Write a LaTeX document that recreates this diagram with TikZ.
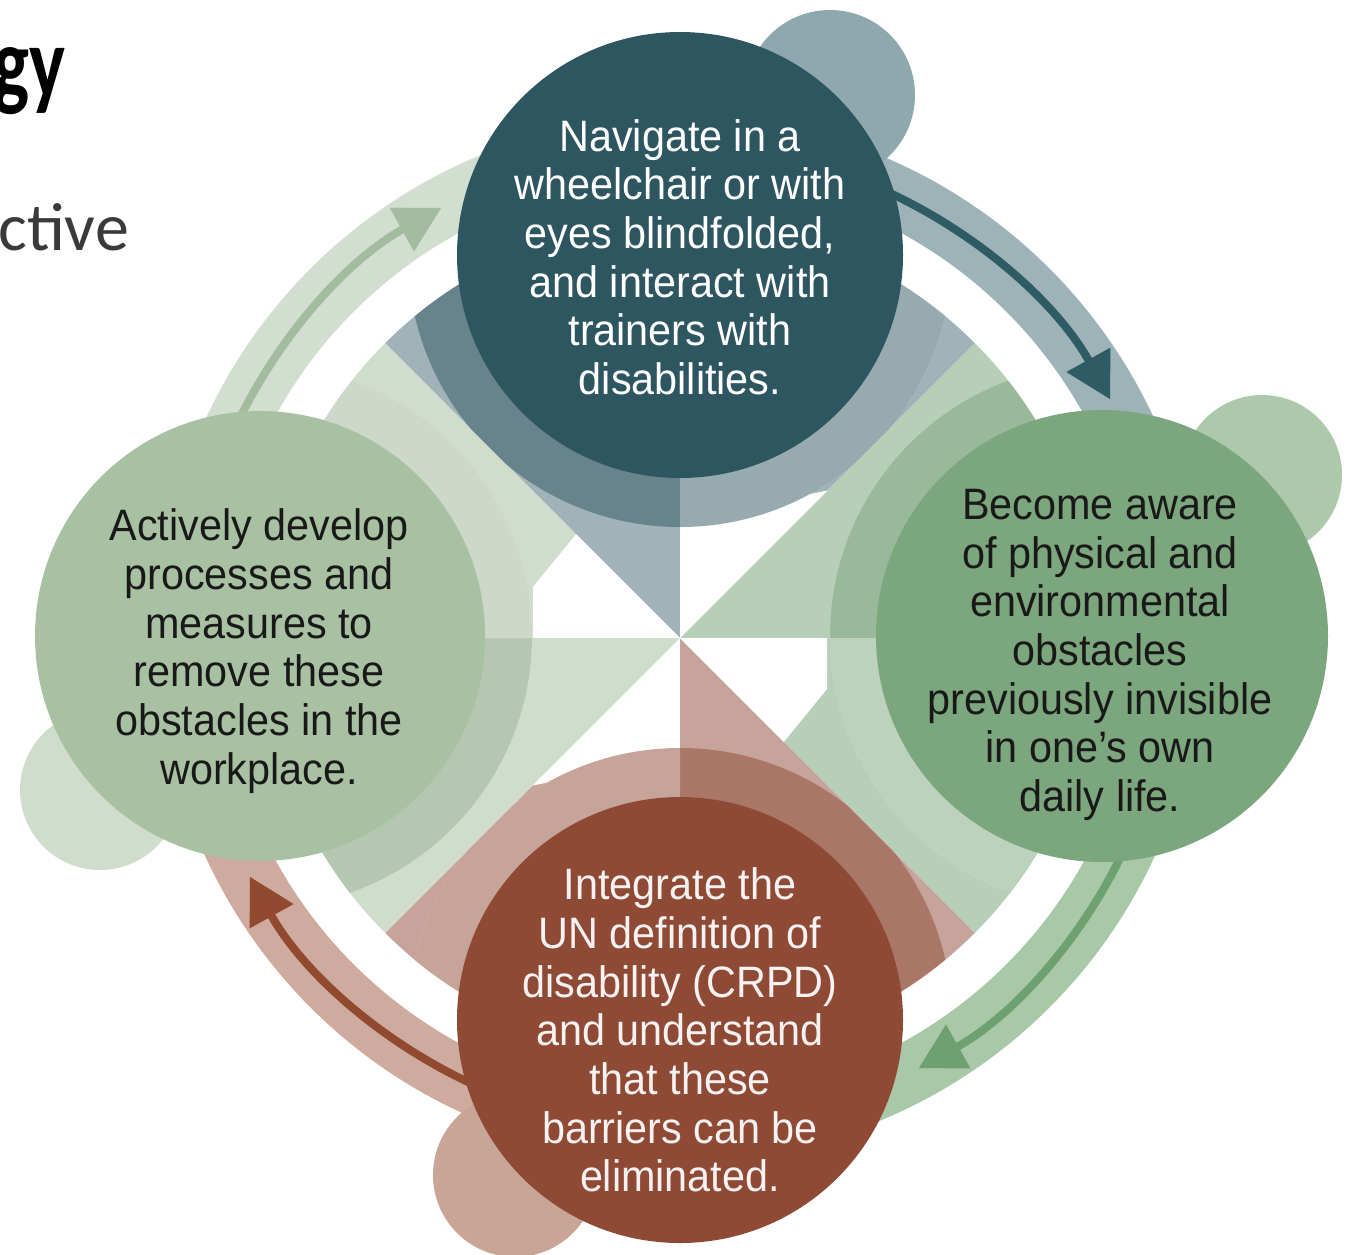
\documentclass[tikz,border=0pt]{standalone}
\usepackage{fontspec}
\setmainfont{Liberation Sans}[FakeStretch=0.94]
\newfontfamily\slidefont{Carlito}
\newfontfamily\slideheadfont{Carlito}[FakeStretch=0.75]
\usetikzlibrary{arrows.meta}

% circle colours
\definecolor{tealc}{HTML}{2E5661}
\definecolor{greenc}{HTML}{7CA67D}
\definecolor{rustc}{HTML}{8F4A36}
\definecolor{sagec}{HTML}{A9C1A3}
% bands, arrows, bumps
\definecolor{tealband}{HTML}{9DB3B8}
\definecolor{greenband}{HTML}{A9C8A7}
\definecolor{rustband}{HTML}{CFAB9F}
\definecolor{sageband}{HTML}{D2DECF}
\definecolor{tealarrow}{HTML}{2F5B65}
\definecolor{greenarrow}{HTML}{6FA072}
\definecolor{rustarrow}{HTML}{91492F}
\definecolor{sagearrow}{HTML}{A3BC9F}
\definecolor{tealbump}{HTML}{8EA8AD}
\definecolor{greenbump}{HTML}{ADC8AB}
\definecolor{rustbump}{HTML}{C9A597}
\definecolor{sagebump}{HTML}{D0DCCC}
\definecolor{subgrey}{HTML}{3A3A3A}

\tikzset{
  stage/.style={circle, minimum size=#1, inner sep=0pt},
  stagetext/.style={align=center, inner sep=0pt, font=\fontsize{33}{36.5}\selectfont},
  band/.style={line width=45.75pt},
  flow/.style={line width=6pt, -{Triangle[width=36pt,length=34pt]}},
}

\begin{document}
\begin{tikzpicture}[x=0.75pt,y=0.75pt,yscale=-1]
        \useasboundingbox (0,0) rectangle (1348,1254);
        \coordinate (O) at (680,638);

        % quarter sectors behind each stage
        \foreach \d/\sec in {-90/tealc!45!white, 0/greenc!55!white, 90/rustc!50!white, 180/sagec!55!white}
          \fill[\sec] (O) -- ++(\d-45:417) arc[start angle=\d-45, end angle=\d+45, radius=417] -- cycle;

        % white pinwheel gaps (and the ground under the halo on that side)
        \foreach \d/\cx/\cy/\pa/\pb/\pc in {-90/680/255/{680,520}/{755,505}/{830,490}, 0/1102/636/{827,638}/{827,689}/{783,743}, 90/680/1020/{680,756}/{605,771}/{530,786}, 180/260/636/{533,638}/{533,587}/{577,533}}{
          \begin{scope}
            \clip (O) -- ++(\d:417) arc[start angle=\d, end angle=\d+45, radius=417] -- cycle;
            \fill[white] (O) -- (\pa) -- (\pb) -- (\pc) -- cycle;
            \fill[white] (\cx,\cy) circle[radius=272];
          \end{scope}
        }

        % halos
        \foreach \d/\hal/\cx/\cy in {-90/tealc/680/255, 0/greenc/1102/636, 90/rustc/680/1020, 180/sagec!92!black/260/636}{
          \begin{scope}
            \clip (O) -- ++(\d-45:417) arc[start angle=\d-45, end angle=\d+45, radius=417] -- cycle;
            \fill[\hal, fill opacity=0.5] (\cx,\cy) circle[radius=272];
          \end{scope}
        }

        % curved arrows between the stages
        \foreach \a/\bcol/\lcol in {-90/tealband/tealarrow, 0/greenband/greenarrow, 90/rustband/rustarrow, 180/sageband/sagearrow}{
          \draw[band, \bcol] (O) ++(\a+20:492) arc[start angle=\a+20, end angle=\a+70, radius=492];
          \draw[flow, \lcol] (O) ++(\a+22:492) arc[start angle=\a+22, end angle=\a+61, radius=492];
        }

        % small bumps
        \fill[tealbump] (830,95) circle[radius=85];
        \fill[greenbump] (1262,475) circle[radius=80];
        \fill[rustbump] (515,1175) circle[radius=82];
        \fill[sagebump] (100,790) circle[radius=80];

        % stages
        \node[stage=334.5pt, fill=tealc] (nav) at (680,255) {};
        \node[stage=339pt, fill=greenc] (aware) at (1102,636) {};
        \node[stage=334.5pt, fill=rustc] (crpd) at (680,1020) {};
        \node[stage=337.5pt, fill=sagec] (remove) at (260,636) {};

        \node[stagetext, text=white] (navtext) at (680,257) {Navigate in a\\wheelchair or with\\eyes blindfolded,\\and interact with\\trainers with\\disabilities.};
        \node[stagetext, text=black!90] (awaretext) at (1100,655) {Become aware\\of physical and\\environmental\\obstacles\\previously invisible\\in one's own\\daily life.};
        \node[stagetext, text=white!93!rustc] (crpdtext) at (680,1030) {Integrate the\\UN definition of\\disability (CRPD)\\and understand\\that these\\barriers can be\\eliminated.};
        \node[stagetext, text=black!90] (removetext) at (259,651) {Actively develop\\processes and\\measures to\\remove these\\obstacles in the\\workplace.};

        % slide title and subtitle ends
        \node[anchor=base east, inner sep=0pt, font=\slideheadfont\bfseries\fontsize{76}{76}\selectfont] (titlepart) at (66,97) {gy};
        \node[anchor=base west, inner sep=0pt, text=subgrey, font=\slidefont\fontsize{51}{51}\selectfont] (subpart) at (-2,250) {ctive};

\end{tikzpicture}
\end{document}
